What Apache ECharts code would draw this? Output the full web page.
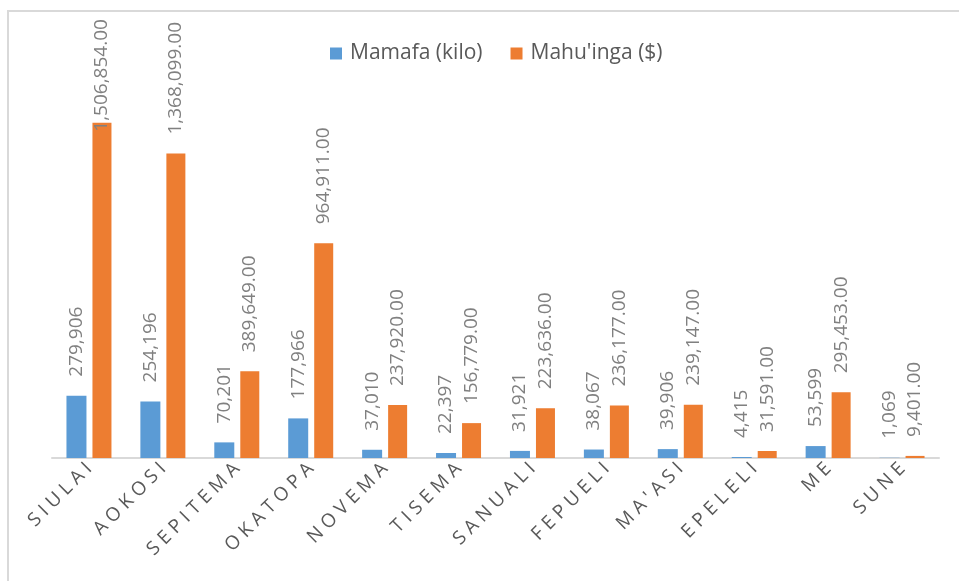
<!DOCTYPE html>
<html>
<head>
<meta charset="utf-8">
<script src="https://cdn.jsdelivr.net/npm/echarts@6/dist/echarts.min.js"></script>
<style>
html,body{margin:0;padding:0;background:#fff;}
#chart{width:959px;height:581px;}
</style>
</head>
<body>
<div id="chart"></div>
<script>
const categories = ['SIULAI','AOKOSI','SEPITEMA','OKATOPA','NOVEMA','TISEMA','SANUALI','FEPUELI',"MA'ASI",'EPELELI','ME','SUNE'];
const mamafa = [279906, 254196, 70201, 177966, 37010, 22397, 31921, 38067, 39906, 4415, 53599, 1069];
const mahuinga = [1506854, 1368099, 389649, 964911, 237920, 156779, 223636, 236177, 239147, 31591, 295453, 9401];
const seriesNames = ['Mamafa (kilo)', "Mahu'inga ($)"];

const chart = echarts.init(document.getElementById('chart'));
const fmtInt = v => v.toLocaleString('en-US');
const fmtDec = v => v.toLocaleString('en-US', {minimumFractionDigits: 2, maximumFractionDigits: 2});

const labelBase = {
  show: true, position: 'top', rotate: 90, align: 'left', verticalAlign: 'middle',
  distance: 19, color: '#808080', fontFamily: 'Open Sans', fontSize: 19
};

const orangeData = mahuinga.map((v, i) => i === 0 ? {value: v, label: {distance: -9}} : v);

chart.setOption({
  animation: false,
  textStyle: {fontFamily: 'Open Sans'},
  graphic: [{
    type: 'rect', shape: {x: 8, y: 11, width: 1000, height: 1000},
    style: {fill: 'none', stroke: '#d9d9d9', lineWidth: 2}, silent: true
  }],
  legend: {
    left: 325, top: 38, itemWidth: 12, itemHeight: 12, itemGap: 28,
    icon: 'rect',
    textStyle: {color: '#595959', fontSize: 21, fontFamily: 'Open Sans', padding: [0, 0, 0, 3]},
    data: seriesNames
  },
  grid: {left: 52, right: 20, top: 102, bottom: 123},
  xAxis: {
    type: 'category', data: categories,
    axisTick: {show: false},
    axisLine: {lineStyle: {color: '#d9d9d9', width: 2}},
    axisLabel: {
      rotate: 45, interval: 0, margin: 8, color: '#595959', fontSize: 19, fontFamily: 'Open Sans',
      formatter: v => v.split('').join(' ')
    }
  },
  yAxis: {type: 'value', min: 0, max: 1600000, show: false, splitLine: {show: false}},
  series: [
    {name: seriesNames[0], type: 'bar', data: mamafa, barWidth: 20, barGap: '30%',
     itemStyle: {color: '#5B9BD5'}, label: Object.assign({}, labelBase, {formatter: p => fmtInt(p.value)})},
    {name: seriesNames[1], type: 'bar', data: orangeData, barWidth: 19,
     itemStyle: {color: '#ED7D31'}, label: Object.assign({}, labelBase, {formatter: p => fmtDec(p.value)})}
  ]
});
</script>
</body>
</html>
